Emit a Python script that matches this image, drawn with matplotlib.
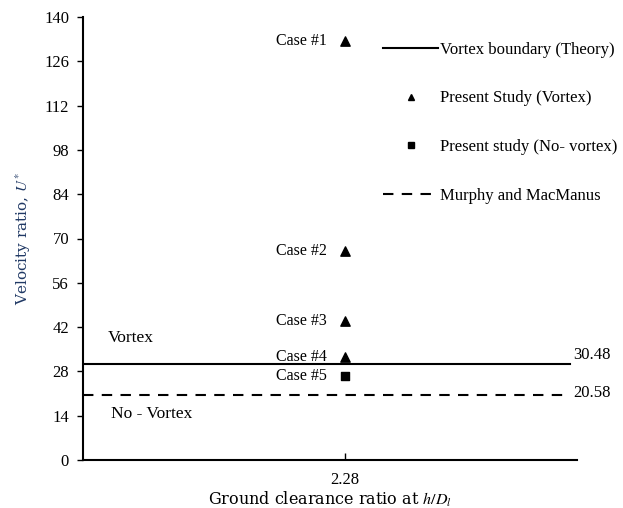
import matplotlib
matplotlib.use("Agg")
import matplotlib.pyplot as plt
from matplotlib.lines import Line2D

# Data
x_category = ["2.28"]
vortex_cases = ["Case #1", "Case #2", "Case #3", "Case #4"]
vortex_values = [132.5, 66.0, 44.0, 32.5]
novortex_cases = ["Case #5"]
novortex_values = [26.5]
vortex_boundary = 30.48
murphy = 20.58
y_ticks = [0, 14, 28, 42, 56, 70, 84, 98, 112, 126, 140]

plt.rcParams['font.family'] = ['Liberation Serif', 'DejaVu Serif']
plt.rcParams['mathtext.fontset'] = 'stix'

fig = plt.figure(figsize=(6.23, 5.08), dpi=100)
ax = fig.add_axes([83/623, 1-460/508, (577-83)/623, (460-17)/508])

xpos = 0
ax.set_xlim(-0.53, 0.47)
ax.set_ylim(0, 140)

ax.axhline(vortex_boundary, xmin=0, xmax=0.986, color='black', lw=1.5)
ax.axhline(murphy, xmin=0, xmax=0.986, color='black', lw=1.5, ls=(0, (5, 4)))

ax.scatter([xpos]*len(vortex_values), vortex_values, marker='^', s=45, color='black', zorder=3)
ax.scatter([xpos]*len(novortex_values), novortex_values, marker='s', s=30, color='black', zorder=3)

for name, v in zip(vortex_cases + novortex_cases, vortex_values + novortex_values):
    ax.annotate(name, (xpos, v), xytext=(-13, 0), textcoords='offset points',
                ha='right', va='center', fontsize=11.5)

ax.annotate("30.48", (0.992, vortex_boundary), xycoords=ax.get_yaxis_transform(),
            xytext=(0, 6), textcoords='offset points', ha='left', va='center', fontsize=12)
ax.annotate("20.58", (0.992, murphy), xycoords=ax.get_yaxis_transform(),
            xytext=(0, 1.5), textcoords='offset points', ha='left', va='center', fontsize=12)
ax.text(25/494, 38.5, "Vortex", transform=ax.get_yaxis_transform(), ha='left', va='center', fontsize=12.5)
ax.text(28/494, 14.5, "No - Vortex", transform=ax.get_yaxis_transform(), ha='left', va='center', fontsize=12.5)

ax.set_yticks(y_ticks)
ax.set_xticks([xpos])
ax.set_xticklabels(x_category)
ax.tick_params(axis='y', direction='out', length=4, width=1, labelsize=12, pad=6)
ax.tick_params(axis='x', direction='in', length=5, width=1, labelsize=12, pad=9)
for s in ['top', 'right']:
    ax.spines[s].set_visible(False)
for s in ['left', 'bottom']:
    ax.spines[s].set_linewidth(1.5)

ax.set_ylabel("Velocity ratio, $U^{*}$", color='#1f3864', fontsize=11, labelpad=8,
              fontfamily=['DejaVu Serif'])
ax.set_xlabel("Ground clearance ratio at $h/D_l$", fontsize=11.5, labelpad=1,
              fontfamily=['DejaVu Serif'])

handles = [
    Line2D([], [], color='black', lw=1.5),
    Line2D([], [], color='black', marker='^', ls='none', markersize=5),
    Line2D([], [], color='black', marker='s', ls='none', markersize=5),
    Line2D([], [], color='black', lw=1.5, ls=(0, (5, 4))),
]
labels = ["Vortex boundary (Theory)", "Present Study (Vortex)",
          "Present study (No- vortex)", "Murphy and MacManus"]
fig.legend(handles, labels, loc='upper left', bbox_to_anchor=(383/623, 1-42/508),
           frameon=False, fontsize=12, handlelength=3.3, handletextpad=0.1,
           labelspacing=1.95, borderpad=0, borderaxespad=0)

fig.savefig("out.png", dpi=100)
